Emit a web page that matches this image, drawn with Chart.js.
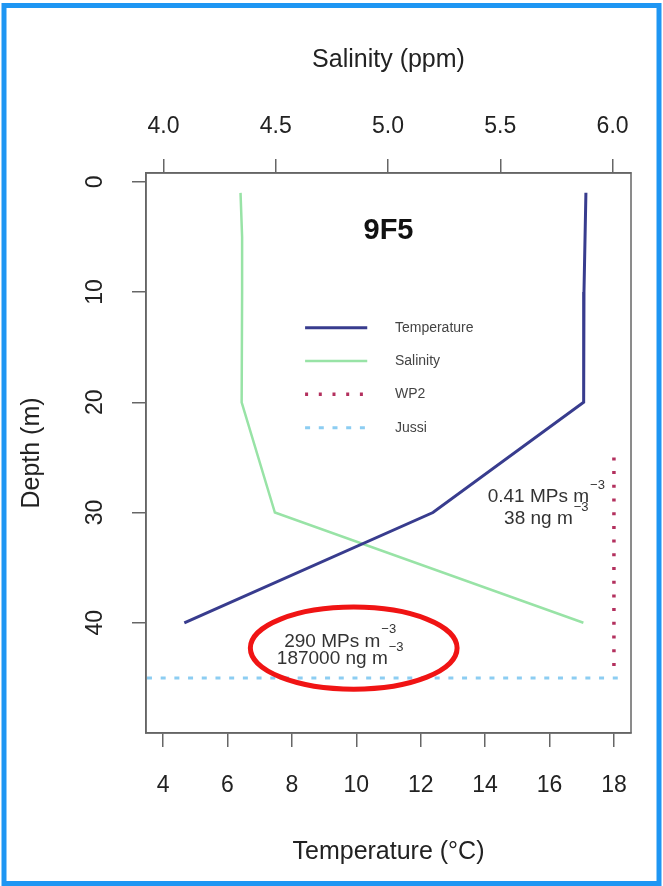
<!DOCTYPE html>
<html lang="en">
<head>
<meta charset="UTF-8">
<title>9F5 profile</title>
<script src="https://cdn.jsdelivr.net/npm/chart.js"></script>
<style>
  body { margin: 0; background: #fff; }
</style>
</head>
<body>
<canvas id="profile" width="663" height="886"></canvas>
<script>
// temperature profile, bottom axis
const tempDepth = [1, 10, 20, 30, 40];
const tempValues = [17.13, 17.07, 17.06, 12.38, 4.66];
// salinity profile, top axis
const salDepth = [1, 5, 10, 20, 30, 40];
const salValues = [4.343, 4.35, 4.35, 4.348, 4.496, 5.87];
// sampling lines
const wp2Temp = [18, 18];
const wp2Depth = [25, 44];
const jussiTemp = [3.5, 18.2];
const jussiDepth = [45, 45];

const tempTicks = [4, 6, 8, 10, 12, 14, 16, 18];
const salTicks = [4.0, 4.5, 5.0, 5.5, 6.0];
const depthTicks = [0, 10, 20, 30, 40];

const plotTitle = '9F5';
const legendLabels = ['Temperature', 'Salinity', 'WP2', 'Jussi'];
const noteLines = ['0.41 MPs m', '38 ng m', '290 MPs m', '187000 ng m'];
const noteTemp = [15.9, 15.9, 9.5, 9.5];
const noteDepth = [28.6, 30.6, 41.7, 43.3];

const font = "'Liberation Sans', Arial, sans-serif";
Chart.defaults.font.family = font;
Chart.defaults.color = '#222';

const pts = (xs, ys) => xs.map((v, i) => ({x: v, y: ys[i]}));
const fixTicks = vals => scale => { scale.ticks = vals.map(v => ({value: v})); };
const axisGrid = { drawOnChartArea: false, tickLength: 14, color: '#666', lineWidth: 1.5 };
const axisBorder = { color: '#666', width: 1.5 };

const extras = {
  id: 'extras',
  afterDatasetsDraw(chart) {
    const {ctx, chartArea: a, scales: {x, y}} = chart;
    const ds = chart.data.datasets;
    ctx.save();
    // box round the plot
    ctx.strokeStyle = '#666';
    ctx.lineWidth = 1.5;
    ctx.strokeRect(a.left, a.top, a.right - a.left, a.bottom - a.top);

    // title inside the plot
    ctx.fillStyle = '#111';
    ctx.font = 'bold 29px ' + font;
    ctx.textAlign = 'center';
    ctx.textBaseline = 'middle';
    ctx.fillText(plotTitle, x.getPixelForValue(11), y.getPixelForValue(4.5));

    // legend, R style (no box)
    const lx1 = x.getPixelForValue(8.41), lx2 = x.getPixelForValue(10.34);
    const tx = x.getPixelForValue(11.2);
    ctx.font = '14px ' + font;
    ctx.textAlign = 'left';
    legendLabels.forEach((lab, i) => {
      const ly = y.getPixelForValue(13.24 + i * 3.02);
      ctx.strokeStyle = ds[i].borderColor;
      ctx.lineWidth = ds[i].borderWidth;
      ctx.setLineDash(ds[i].borderDash || []);
      ctx.beginPath();
      ctx.moveTo(lx1, ly);
      ctx.lineTo(lx2, ly);
      ctx.stroke();
      ctx.setLineDash([]);
      ctx.fillStyle = '#444';
      ctx.fillText(lab, tx, ly);
    });

    // concentration notes with m^-3
    noteLines.forEach((txt, i) => {
      const cx = x.getPixelForValue(noteTemp[i]);
      const cy = y.getPixelForValue(noteDepth[i]);
      ctx.font = '19px ' + font;
      const w = ctx.measureText(txt).width;
      ctx.font = '13px ' + font;
      const ws = ctx.measureText('\u22123').width;
      const left = cx - (w + ws + 1) / 2;
      ctx.fillStyle = '#333';
      ctx.font = '19px ' + font;
      ctx.fillText(txt, left, cy);
      ctx.font = '13px ' + font;
      ctx.fillText('\u22123', left + w + 1, cy - 12);
    });

    // red ring round the lower note
    const ex = x.getPixelForValue(9.92), ey = y.getPixelForValue(42.3);
    const rx = x.getPixelForValue(9.92 + 3.21) - ex;
    const ry = y.getPixelForValue(42.3 + 3.72) - ey;
    ctx.strokeStyle = '#f01414';
    ctx.lineWidth = 5;
    ctx.beginPath();
    ctx.ellipse(ex, ey, rx, ry, 0, 0, Math.PI * 2);
    ctx.stroke();
    ctx.restore();
  },
  afterDraw(chart) {
    const ctx = chart.ctx;
    ctx.save();
    ctx.strokeStyle = '#1e96f3';
    ctx.lineWidth = 5;
    ctx.strokeRect(4, 5.5, 655, 878);
    ctx.restore();
  }
};

new Chart(document.getElementById('profile'), {
  type: 'scatter',
  data: {
    datasets: [
      {
        label: 'Temperature',
        data: pts(tempValues, tempDepth),
        xAxisID: 'x', yAxisID: 'y',
        showLine: true, borderColor: '#383c8e', borderWidth: 3, pointRadius: 0
      },
      {
        label: 'Salinity',
        data: pts(salValues, salDepth),
        xAxisID: 'x2', yAxisID: 'y',
        showLine: true, borderColor: '#98e3a6', borderWidth: 2.5, pointRadius: 0
      },
      {
        label: 'WP2',
        data: pts(wp2Temp, wp2Depth),
        xAxisID: 'x', yAxisID: 'y',
        showLine: true, borderColor: '#b3305e', borderWidth: 3.5, borderDash: [3, 10.7], pointRadius: 0
      },
      {
        label: 'Jussi',
        data: pts(jussiTemp, jussiDepth),
        xAxisID: 'x', yAxisID: 'y',
        showLine: true, borderColor: '#8ccdf2', borderWidth: 3, borderDash: [5, 8.7], pointRadius: 0
      }
    ]
  },
  options: {
    responsive: false,
    animation: false,
    layout: { padding: { left: 0, right: 32, top: 0, bottom: 0 } },
    plugins: { legend: { display: false }, tooltip: { enabled: false } },
    scales: {
      y: {
        type: 'linear', position: 'left', reverse: true, min: -0.8, max: 50,
        afterBuildTicks: fixTicks(depthTicks),
        afterFit: s => { s.width = 146; },
        ticks: { minRotation: 90, maxRotation: 90, crossAlign: 'center', autoSkip: false, padding: 24, font: { size: 23 }, color: '#222' },
        grid: axisGrid, border: axisBorder,
        title: { display: true, text: 'Depth (m)', font: { size: 25 }, color: '#222', padding: { top: 17, bottom: 0 } }
      },
      x: {
        type: 'linear', position: 'bottom', min: 3.47, max: 18.53,
        afterBuildTicks: fixTicks(tempTicks),
        afterFit: s => { s.height = 153; },
        ticks: { minRotation: 0, maxRotation: 0, autoSkip: false, padding: 25, font: { size: 23 }, color: '#222' },
        grid: axisGrid, border: axisBorder,
        title: { display: true, text: 'Temperature (°C)', font: { size: 25 }, color: '#222', padding: { top: 0, bottom: 19 } }
      },
      x2: {
        type: 'linear', position: 'top', min: 3.922, max: 6.082,
        afterBuildTicks: fixTicks(salTicks),
        afterFit: s => { s.height = 173; },
        ticks: { minRotation: 0, maxRotation: 0, autoSkip: false, padding: 19, font: { size: 23 }, color: '#222',
                 callback: v => v.toFixed(1) },
        grid: axisGrid, border: axisBorder,
        title: { display: true, text: 'Salinity (ppm)', font: { size: 25 }, color: '#222', padding: { top: 45, bottom: 0 } }
      }
    }
  },
  plugins: [extras]
});
</script>
</body>
</html>
